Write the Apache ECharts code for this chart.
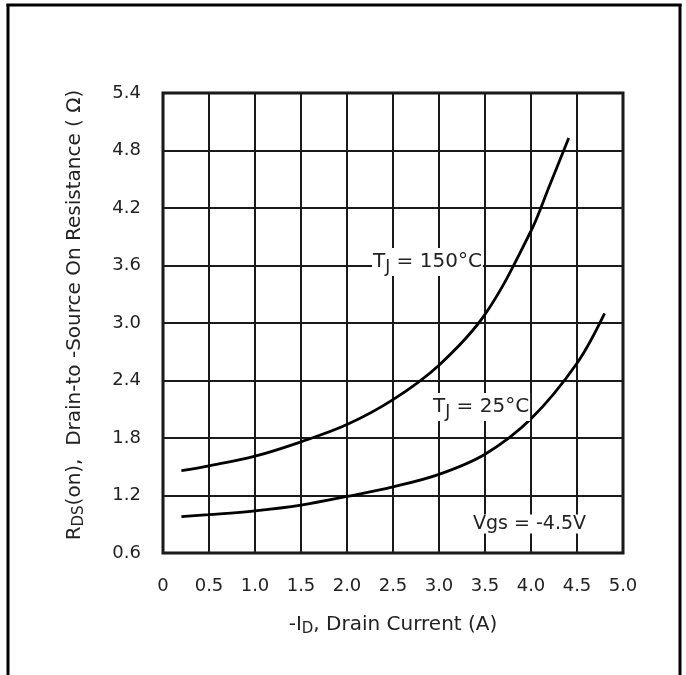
<!DOCTYPE html>
<html>
<head>
<meta charset="utf-8">
<script src="https://cdn.jsdelivr.net/npm/echarts@6/dist/echarts.min.js"></script>
<style>
html,body{margin:0;padding:0;background:#fff;}
#chart{width:686px;height:675px;}
</style>
</head>
<body>
<div id="chart"></div>
<script>
// Drain current (A) and on-resistance (Ohm)
const current150 = [0.2, 0.5, 1.0, 1.5, 2.0, 2.5, 3.0, 3.5, 4.0, 4.2, 4.41];
const rds150     = [1.46, 1.51, 1.61, 1.76, 1.94, 2.2, 2.56, 3.09, 3.96, 4.43, 4.93];
const current25  = [0.2, 0.5, 1.0, 1.5, 2.0, 2.5, 3.0, 3.5, 4.0, 4.5, 4.8];
const rds25      = [0.98, 1.0, 1.04, 1.1, 1.19, 1.29, 1.42, 1.63, 2.0, 2.58, 3.1];
const xTickLabels = ['0', '0.5', '1.0', '1.5', '2.0', '2.5', '3.0', '3.5', '4.0', '4.5', '5.0'];
const yTickLabels = ['0.6', '1.2', '1.8', '2.4', '3.0', '3.6', '4.2', '4.8', '5.4'];

const FONT = 'DejaVu Sans';
const chart = echarts.init(document.getElementById('chart'), null, {renderer: 'canvas'});

function pairs(xs, ys) { return xs.map((x, i) => [x, ys[i]]); }

const subStyle = {fontFamily: FONT, fontSize: 15, color: '#222', padding: [9, 0, 0, 0], verticalAlign: 'bottom'};
const annSub = {fontFamily: FONT, fontSize: 17, fill: '#222', padding: [11, 0, 0, 0], verticalAlign: 'bottom'};

const option = {
  animation: false,
  backgroundColor: '#fff',
  grid: {
    left: 163, right: 63, top: 93, bottom: 122,
    show: true, borderColor: '#111', borderWidth: 3, backgroundColor: 'transparent'
  },
  xAxis: {
    type: 'value', min: 0, max: 5, interval: 0.5,
    axisLine: {show: false}, axisTick: {show: false},
    splitLine: {show: true, lineStyle: {color: '#1a1a1a', width: 2}},
    axisLabel: {
      margin: 24, color: '#222', fontFamily: FONT, fontSize: 18,
      formatter: v => xTickLabels[Math.round(v / 0.5)]
    },
    name: '-I{s|D}, Drain Current (A)',
    nameLocation: 'middle', nameGap: 60,
    nameTextStyle: {
      color: '#222', fontFamily: FONT, fontSize: 20,
      rich: {s: subStyle}
    }
  },
  yAxis: {
    type: 'value', min: 0.6, max: 5.4, interval: 0.6,
    axisLine: {show: false}, axisTick: {show: false},
    splitLine: {show: true, lineStyle: {color: '#1a1a1a', width: 2}},
    axisLabel: {
      margin: 22, color: '#222', fontFamily: FONT, fontSize: 18,
      formatter: v => yTickLabels[Math.round((v - 0.6) / 0.6)]
    },
    name: 'R{s|DS}(on),  Drain-to -Source On Resistance ( Ω)',
    nameLocation: 'middle', nameGap: 76, nameRotate: 90,
    nameTextStyle: {
      color: '#222', fontFamily: FONT, fontSize: 20,
      padding: [0, 0, 0, 16],
      rich: {s: subStyle}
    }
  },
  series: [
    {
      name: 'TJ = 150°C', type: 'line', smooth: 0.35, showSymbol: false,
      lineStyle: {color: '#000', width: 2.8},
      data: pairs(current150, rds150), z: 5
    },
    {
      name: 'TJ = 25°C', type: 'line', smooth: 0.35, showSymbol: false,
      lineStyle: {color: '#000', width: 2.8},
      data: pairs(current25, rds25), z: 5
    }
  ],
  graphic: [
    {type: 'line', shape: {x1: 8, y1: 4, x2: 8, y2: 680}, style: {stroke: '#000', lineWidth: 3}},
    {type: 'line', shape: {x1: 6.5, y1: 5, x2: 681.5, y2: 5}, style: {stroke: '#000', lineWidth: 3}},
    {type: 'line', shape: {x1: 680, y1: 4, x2: 680, y2: 680}, style: {stroke: '#000', lineWidth: 3}},
    {
      type: 'text', x: 372, y: 262, z: 10,
      style: {
        text: 'T{s|J} = 150°C', fill: '#222', fontFamily: FONT, fontSize: 20,
        verticalAlign: 'middle', backgroundColor: '#fff', padding: [0, 1, 0, 1],
        rich: {s: annSub}
      }
    },
    {
      type: 'text', x: 432, y: 407, z: 10,
      style: {
        text: 'T{s|J} = 25°C', fill: '#222', fontFamily: FONT, fontSize: 20,
        verticalAlign: 'middle', backgroundColor: '#fff', padding: [0, 1, 0, 1],
        rich: {s: annSub}
      }
    },
    {
      type: 'text', x: 472, y: 524, z: 10,
      style: {
        text: 'Vgs = -4.5V', fill: '#222', fontFamily: FONT, fontSize: 19,
        verticalAlign: 'middle', backgroundColor: '#fff', padding: [0, 1, 0, 1]
      }
    }
  ]
};
chart.setOption(option);
</script>
</body>
</html>
